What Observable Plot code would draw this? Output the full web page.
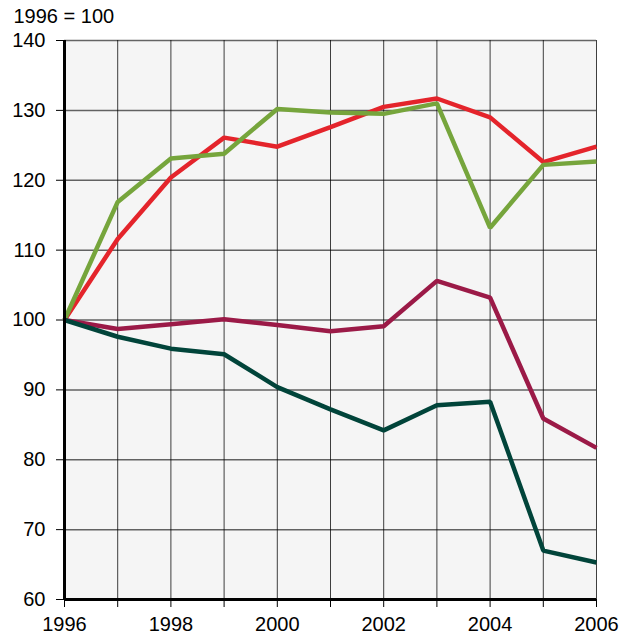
<!DOCTYPE html>
<html><head><meta charset="utf-8">
<script src="https://cdn.jsdelivr.net/npm/d3@7"></script>
<script src="https://cdn.jsdelivr.net/npm/@observablehq/plot@0.6"></script>
<style>body{margin:0;background:#fff;} svg{display:block;} svg text{font-size:20px;}</style>
</head><body><div id="chart"></div>
<script>
const years = [1996,1997,1998,1999,2000,2001,2002,2003,2004,2005,2006];
const seriesA = [100,111.6,120.4,126.1,124.8,127.6,130.5,131.7,129.0,122.6,124.8];
const seriesB = [100,116.9,123.1,123.8,130.2,129.7,129.5,131.0,113.2,122.2,122.7];
const seriesC = [100,98.7,99.4,100.1,99.3,98.4,99.1,105.6,103.2,85.9,81.7];
const seriesD = [100,97.6,95.9,95.1,90.4,87.2,84.2,87.8,88.3,67.0,65.3];
const yTicks = [60,70,80,90,100,110,120,130,140];
const seriesNames = ["A","B","C","D"];
const seriesColors = ["#e4242b","#76a53c","#9b1a47","#01443a"];
const label = "1996 = 100";

const allSeries = [seriesA, seriesB, seriesC, seriesD];
const data = allSeries.flatMap((arr, i) => arr.map((v, j) => ({year: years[j], value: v, s: seriesNames[i]})));

const chart = Plot.plot({
  width: 630, height: 639,
  marginLeft: 64, marginRight: 34, marginTop: 40, marginBottom: 40,
  style: {fontFamily: "Liberation Sans, Arial, sans-serif", fontSize: "20px", background: "#fff", color: "#000"},
  x: {domain: [1996, 2006]},
  y: {domain: [60, 140]},
  color: {domain: seriesNames, range: seriesColors},
  marks: [
    Plot.frame({fill: "#f5f5f5", stroke: null}),
    Plot.gridX(years, {stroke: "#000", strokeOpacity: 0.75, strokeWidth: 1}),
    Plot.gridY(yTicks, {stroke: "#000", strokeOpacity: 0.6, strokeWidth: 1.5}),
    Plot.axisX(years, {tickSize: 8, tickPadding: 9, tickFormat: d => d % 2 === 0 ? String(d) : "", label: null, strokeWidth: 1}),
    Plot.axisY(yTicks, {tickSize: 8, tickPadding: 11, tickFormat: d => String(d), label: null}),
    Plot.line(data, {x: "year", y: "value", z: "s", stroke: "s", strokeWidth: 4.5, strokeLinejoin: "miter", strokeLinecap: "butt"}),
    Plot.ruleX([1996], {stroke: "#000", strokeWidth: 3}),
    Plot.ruleY([60], {stroke: "#000", strokeWidth: 3}),
    Plot.text([label], {text: d => d, frameAnchor: "top-left", dx: -51, dy: -32, textAnchor: "start", fill: "#000"})
  ]
});
document.getElementById("chart").appendChild(chart);
</script></body></html>
